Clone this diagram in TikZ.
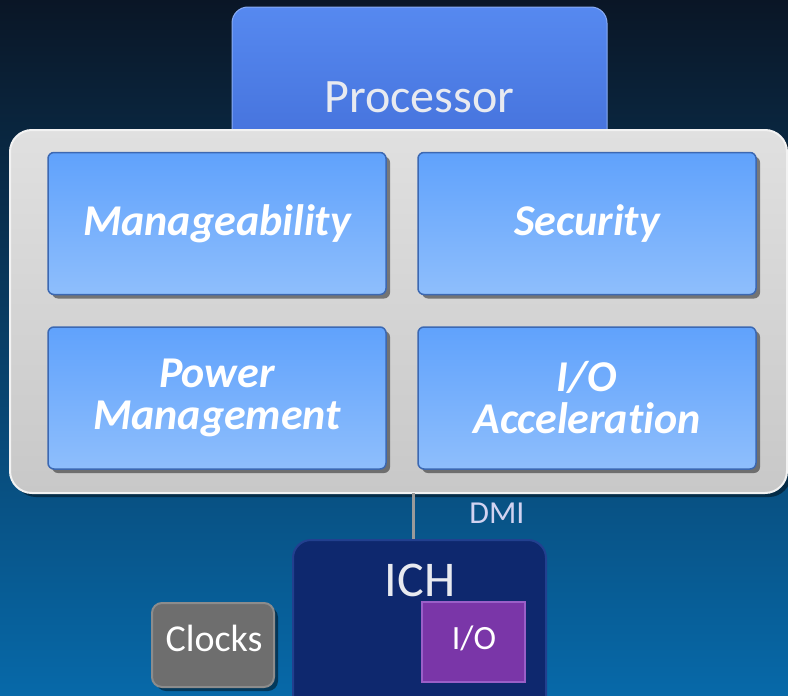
\documentclass[tikz,border=0pt]{standalone}
\usepackage{fontspec}
\setmainfont{Carlito}[Ligatures=NoCommon]
\usetikzlibrary{shadows,calc}
\definecolor{bgtop}{HTML}{0A1626}
\definecolor{bgmid}{HTML}{0B3557}
\definecolor{bgbot}{HTML}{0769A9}
\definecolor{proctop}{HTML}{5689F0}
\definecolor{procbot}{HTML}{4470DA}
\definecolor{paneltop}{HTML}{E0E0E0}
\definecolor{panelbot}{HTML}{C8C8C8}
\definecolor{paneledge}{HTML}{F2F2F2}
\definecolor{fbtop}{HTML}{60A2FC}
\definecolor{fbbot}{HTML}{8EBEFC}
\definecolor{fbedge}{HTML}{3C68B2}
\definecolor{ichfill}{HTML}{0E286E}
\definecolor{ichedge}{HTML}{22408F}
\definecolor{iofill}{HTML}{7A36A8}
\definecolor{ioedge}{HTML}{9A5FC8}
\definecolor{clkfill}{HTML}{6E6E6E}
\definecolor{clkedge}{HTML}{8C8C8C}
\definecolor{lighttext}{HTML}{E8EAF0}
\definecolor{dmiline}{HTML}{9A9A9A}
\begin{document}
\begin{tikzpicture}[x=1pt,y=-1pt,
  shadowed/.style={drop shadow={shadow xshift=4pt, shadow yshift=-4pt, opacity=0.45, fill=black}},
  procbox/.style={rectangle, rounded corners=16pt, top color=proctop, bottom color=procbot, draw=proctop!70!white, line width=1pt, minimum width=375pt, minimum height=150pt, inner sep=0pt},
  panel/.style={rectangle, rounded corners=22pt, top color=paneltop, bottom color=panelbot, draw=paneledge, line width=2pt, minimum width=777pt, minimum height=363pt, inner sep=0pt, shadowed},
  featbox/.style={rectangle, rounded corners=6pt, top color=fbtop, bottom color=fbbot, draw=fbedge, line width=1.5pt, minimum width=338pt, minimum height=142pt, inner sep=0pt, text=white, align=center, font=\fontsize{44}{42}\selectfont\bfseries\itshape, shadowed},
  ichbox/.style={rectangle, rounded corners=18pt, fill=ichfill, draw=ichedge, line width=2pt, minimum width=253pt, minimum height=180pt, inner sep=0pt},
  iobox/.style={rectangle, fill=iofill, draw=ioedge, line width=2pt, minimum width=103pt, minimum height=80pt, inner sep=0pt},
  clkbox/.style={rectangle, rounded corners=10pt, fill=clkfill, draw=clkedge, line width=2pt, minimum width=122pt, minimum height=84pt, inner sep=0pt, shadowed},
  smalltext/.style={text=white, inner sep=0pt, font=\fontsize{36}{36}\selectfont},
  bigtext/.style={text=lighttext, inner sep=0pt, font=\fontsize{48}{48}\selectfont},
  dmitext/.style={text=lighttext!90!blue, inner sep=0pt, font=\fontsize{32}{32}\selectfont},
  dmi/.style={draw=dmiline, line width=3pt}
]
\clip (0,0) rectangle (788,696);
\shade[top color=bgtop, middle color=bgmid, bottom color=bgbot] (0,0) rectangle (788,696);

\node[procbox] (proc) at (419.5,82) {};
\node[bigtext] (proclabel) at (419.5,97) {Processor};

\node[panel] (panel) at (398.5,311.5) {};

\node[featbox] (manage) at (217,223.5) {Manageability};
\node[featbox] (security) at (587,223.5) {Security};
\node[featbox] (power) at (217,398) {Power\\Management};
\node[featbox] (ioacc) at (587,398) {I/O\\Acceleration};

\node[ichbox] (ich) at (419.5,630) {};
\node[bigtext, font=\fontsize{50}{50}\selectfont] (ichlabel) at (420,580) {ICH};
\node[iobox] (io) at (473.5,642) {};
\node[smalltext, font=\fontsize{34}{34}\selectfont] (iolabel) at (474,638) {I/O};
\node[clkbox] (clocks) at (213,645) {};
\node[smalltext, font=\fontsize{38}{38}\selectfont] (clockslabel) at (214,638) {Clocks};

\coordinate (dmitop) at (413,493);
\draw[dmi] (dmitop) -- (dmitop |- ich.north);
\node[dmitext] (dmilabel) at (497,513) {DMI};
\end{tikzpicture}
\end{document}
